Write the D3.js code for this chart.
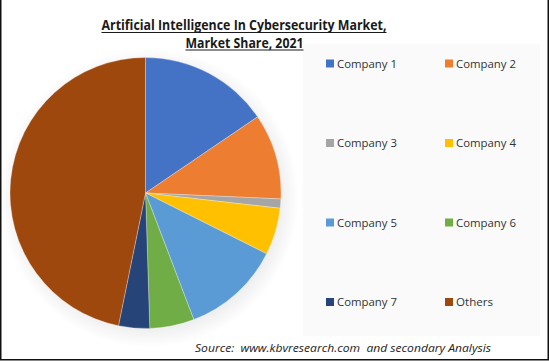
<!DOCTYPE html>
<html><head><meta charset="utf-8">
<script src="https://cdn.jsdelivr.net/npm/d3@7"></script>
<style>html,body{margin:0;padding:0;background:#fff;}svg{display:block;}</style>
</head><body>
<svg id="chart" width="549" height="361"></svg>
<script>
const categories = ["Company 1","Company 2","Company 3","Company 4","Company 5","Company 6","Company 7","Others"];
const shares = [15.5, 10.2, 1.1, 5.6, 11.8, 5.3, 3.7, 46.8];
const colors = ["#4472C4","#ED7D31","#A5A5A5","#FFC000","#5B9BD5","#70AD47","#264478","#9E480E"];
const titleLines = ["Artificial Intelligence In Cybersecurity Market,","Market Share, 2021"];
const sourceText = "Source:  www.kbvresearch.com  and secondary Analysis";

const svg = d3.select("#chart");
const W = 549, H = 361;
const defs = svg.append("defs");
const rg = defs.append("radialGradient").attr("id","shadow");
rg.append("stop").attr("offset","0.8").attr("stop-color","#000").attr("stop-opacity",0.1);
rg.append("stop").attr("offset","1").attr("stop-color","#000").attr("stop-opacity",0);

svg.append("rect").attr("width",W).attr("height",H).attr("fill","#fff");
// legend panel
svg.append("rect").attr("x",303).attr("y",44).attr("width",237).attr("height",292).attr("fill","#fafafa");

const cx = 145.5, cy = 193, r = 135.5;
svg.append("circle").attr("cx",cx+4).attr("cy",cy+5).attr("r",r+14).attr("fill","url(#shadow)");

const pie = d3.pie().sort(null).value(d=>d);
const arc = d3.arc().innerRadius(0).outerRadius(r);
const color = d3.scaleOrdinal().domain(categories).range(colors);
svg.append("g").attr("transform",`translate(${cx},${cy})`)
  .selectAll("path").data(pie(shares)).join("path")
  .attr("d",arc).attr("fill",(d,i)=>color(categories[i]))
  .attr("stroke","#ffffff").attr("stroke-opacity",0.5).attr("stroke-width",0.6);

// title
const title = svg.append("g");
const tl = [{t:titleLines[0], x:244, y:30, w:285},{t:titleLines[1], x:244.5, y:47.5, w:118}];
tl.forEach(d=>{
  title.append("text").attr("x",d.x).attr("y",d.y).attr("text-anchor","middle")
    .attr("font-family","Open Sans, sans-serif").attr("font-weight","bold").attr("font-size",13.5)
    .attr("fill","#1a1a1a").attr("textLength",d.w).attr("lengthAdjust","spacingAndGlyphs").text(d.t);
  title.append("line").attr("x1",d.x-d.w/2).attr("x2",d.x+d.w/2).attr("y1",d.y+2.5).attr("y2",d.y+2.5)
    .attr("stroke","#1a1a1a").attr("stroke-width",1);
});

// legend
const rowsY = [63.5, 143, 222.5, 302];
const colX = [326, 445];
const leg = svg.append("g").selectAll("g").data(categories).join("g")
  .attr("transform",(d,i)=>`translate(${colX[i%2]},${rowsY[Math.floor(i/2)]})`);
leg.append("rect").attr("x",0).attr("y",-4).attr("width",8).attr("height",8).attr("fill",d=>color(d));
leg.append("text").attr("x",11).attr("y",4).attr("font-family","Open Sans, sans-serif").attr("font-size",11.5)
  .attr("fill","#333").attr("textLength",d=>d==="Others"?37:60).attr("lengthAdjust","spacingAndGlyphs").text(d=>d);

// source
svg.append("text").attr("x",195).attr("y",352).attr("font-family","Open Sans, sans-serif").attr("font-style","italic")
  .attr("font-size",11.5).attr("fill","#222").attr("textLength",296).attr("lengthAdjust","spacingAndGlyphs")
  .style("white-space","pre").text(sourceText);

// frame
svg.append("rect").attr("x",0.75).attr("y",-2).attr("width",W-1.5).attr("height",H+0.75).attr("fill","none")
  .attr("stroke","#111").attr("stroke-width",1.5);
</script>
</body></html>
